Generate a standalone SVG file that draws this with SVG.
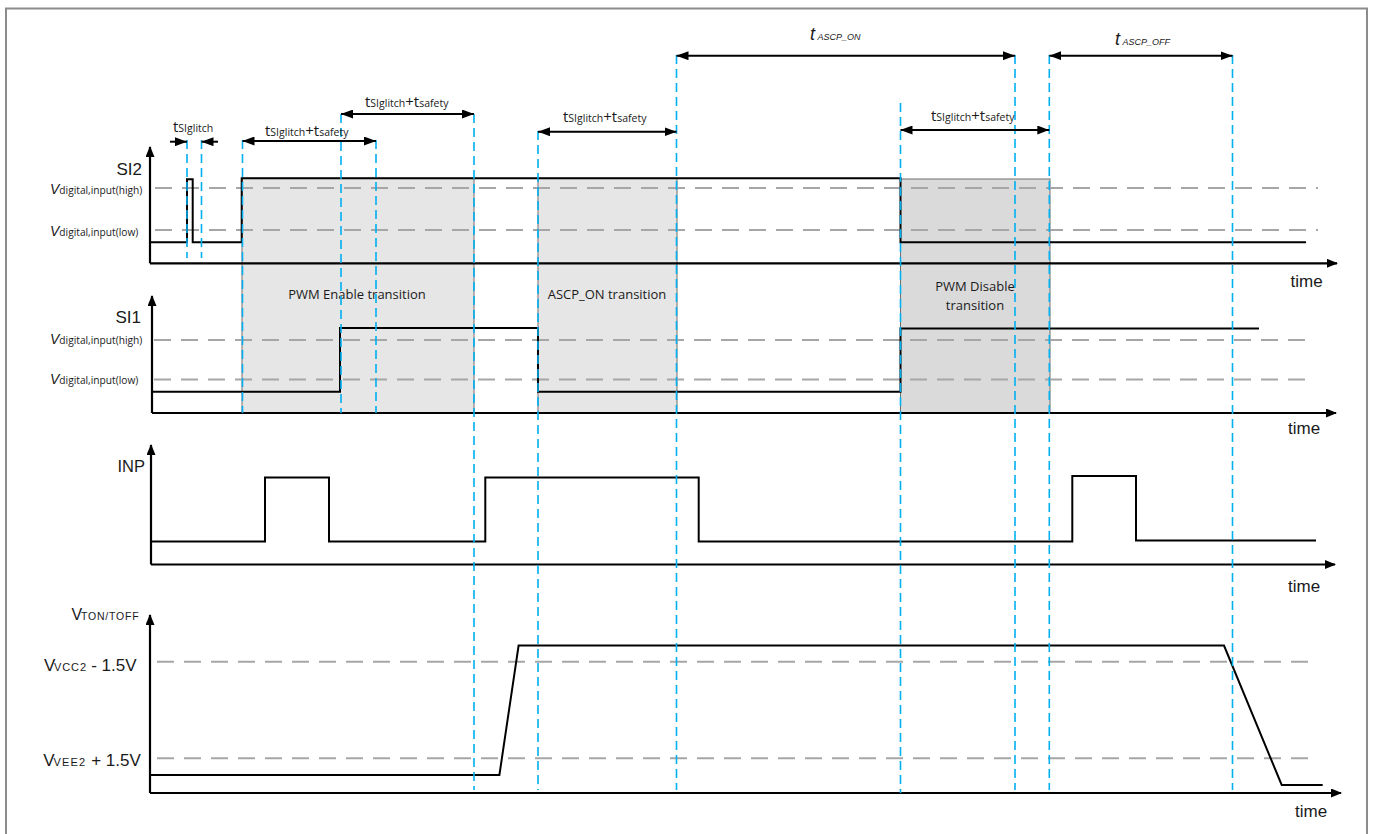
<svg xmlns="http://www.w3.org/2000/svg" width="1373" height="834" viewBox="0 0 1373 834">
<style>
.frame{fill:none;stroke:#8c8c8c;stroke-width:2}
.box{fill:#e6e6e6;stroke:#6e6e6e;stroke-width:1}
.boxd{fill:#dadada;stroke:#6e6e6e;stroke-width:1}
.thr{fill:none;stroke:#a6a6a6;stroke-width:2;stroke-dasharray:17 10}
.sig{fill:none;stroke:#000;stroke-width:2;stroke-linejoin:miter}
.axis{fill:none;stroke:#000;stroke-width:2.2;marker-end:url(#ax)}
.blue{fill:none;stroke:#00b0f0;stroke-width:1.6;stroke-dasharray:9 5}
.dim{fill:none;stroke:#000;stroke-width:2;marker-start:url(#ah);marker-end:url(#ah)}
.one{fill:none;stroke:#000;stroke-width:2;marker-end:url(#ah)}
.ar{font-family:"Liberation Sans",Arial,sans-serif;fill:#1a1a1a}
.cal{font-family:"Open Sans","Noto Sans",sans-serif;fill:#1a1a1a}
.lbl{font-size:17px}
.boxt{font-size:13px;text-anchor:middle}
</style>
<defs>
<marker id="ah" viewBox="0 0 12 9" refX="12" refY="4.5" markerWidth="12" markerHeight="9" markerUnits="userSpaceOnUse" orient="auto-start-reverse">
<path d="M0,0 L12,4.5 L0,9 z" fill="#000"/>
</marker>
<marker id="ax" viewBox="0 0 11 9" refX="10" refY="4.5" markerWidth="11" markerHeight="9" markerUnits="userSpaceOnUse" orient="auto">
<path d="M0,0 L11,4.5 L0,9 z" fill="#000"/>
</marker>
</defs>
<rect width="1373" height="834" fill="#fff"/>
<path class="frame" d="M6,834 V8.5 H1367 V834"/>

<g id="transition-boxes">
<g id="box-pwm-enable">
<rect class="box" x="242" y="178.3" width="232" height="234.7"/>
<text class="cal boxt" x="357" y="299">PWM Enable transition</text>
</g>
<g id="box-ascp-on">
<rect class="box" x="538" y="178.3" width="139" height="234.7"/>
<text class="cal boxt" x="607" y="299">ASCP_ON transition</text>
</g>
<g id="box-pwm-disable">
<rect class="boxd" x="900.5" y="179" width="149.5" height="234.3"/>
<text class="cal boxt" x="975" y="291">PWM Disable</text>
<text class="cal boxt" x="975" y="310">transition</text>
</g>
</g>

<g id="thresholds">
<line class="thr" x1="155" y1="188" x2="1318" y2="188"/>
<line class="thr" x1="155" y1="230" x2="1318" y2="230"/>
<line class="thr" x1="154" y1="340" x2="1307" y2="340"/>
<line class="thr" x1="154" y1="379.5" x2="1307" y2="379.5"/>
<line class="thr" x1="157" y1="661.7" x2="1310" y2="661.7"/>
<line class="thr" x1="157" y1="758.3" x2="1313" y2="758.3"/>
</g>

<g id="si2">
<path class="axis" d="M150,263.3 V147"/>
<path class="axis" d="M150,263.3 H1337"/>
<text class="ar lbl" x="142" y="175" text-anchor="end">SI2</text>
<text x="50" y="193.5"><tspan class="ar" font-size="14" font-style="italic">V</tspan><tspan class="cal" font-size="10.2">digital,input(high)</tspan></text>
<text x="50" y="235.7"><tspan class="ar" font-size="14" font-style="italic">V</tspan><tspan class="cal" font-size="10.2">digital,input(low)</tspan></text>
<path class="sig" d="M150,242.3 H187 V179.3 H192.7 V242.3 H241.7 V178.3 H900.5 V242.3 H1306"/>
<text class="ar lbl" x="1290.5" y="287">time</text>
</g>

<g id="si1">
<path class="axis" d="M152,413 V296"/>
<path class="axis" d="M152,413 H1336"/>
<text class="ar lbl" x="141" y="322.7" text-anchor="end">SI1</text>
<text x="50" y="344.3"><tspan class="ar" font-size="14" font-style="italic">V</tspan><tspan class="cal" font-size="10.2">digital,input(high)</tspan></text>
<text x="50" y="384.3"><tspan class="ar" font-size="14" font-style="italic">V</tspan><tspan class="cal" font-size="10.2">digital,input(low)</tspan></text>
<path class="sig" d="M152,391.7 H340 V328 H538 V391.7 H900.5 V328.5 H1259"/>
<text class="ar lbl" x="1288" y="433.5">time</text>
</g>

<g id="inp">
<path class="axis" d="M151,564.5 V445"/>
<path class="axis" d="M151,564.5 H1335"/>
<text class="ar" font-size="16.5" x="145" y="471.7" text-anchor="end">INP</text>
<path class="sig" d="M151,541.5 H265 V477.5 H329 V541.5 H485.3 V477.5 H698.7 V541.5 H1072.3 V476 H1136 V540.5 H1316"/>
<text class="ar lbl" x="1288" y="592">time</text>
</g>

<g id="vton">
<path class="axis" d="M150,793 V615"/>
<path class="axis" d="M150,793 H1341"/>
<text class="ar" y="620"><tspan x="71.5" font-size="16">V</tspan><tspan x="81" font-size="10.5" letter-spacing="0.8">TON/TOFF</tspan></text>
<text class="ar" y="670.7"><tspan x="44" font-size="17">V</tspan><tspan x="54" font-size="11" letter-spacing="0.9">VCC2</tspan><tspan x="86.5" font-size="17"> - 1.5V</tspan></text>
<text class="ar" y="765.7"><tspan x="43.3" font-size="17">V</tspan><tspan x="53.5" font-size="11" letter-spacing="1.2">VEE2</tspan><tspan x="86.5" font-size="17"> + 1.5V</tspan></text>
<path class="sig" d="M150,775 H499.4 L518.6,645.5 H1224 L1281.7,785 H1322.7"/>
<text class="ar lbl" x="1295" y="817">time</text>
</g>

<g id="markers-vertical">
<line class="blue" x1="187" y1="140" x2="187" y2="258"/>
<line class="blue" x1="201.5" y1="140" x2="201.5" y2="258"/>
<line class="blue" x1="242.5" y1="140" x2="242.5" y2="413"/>
<line class="blue" x1="341" y1="114" x2="341" y2="413"/>
<line class="blue" x1="376" y1="140" x2="376" y2="413"/>
<line class="blue" x1="474" y1="114" x2="474" y2="790"/>
<line class="blue" x1="538" y1="131" x2="538" y2="790"/>
<line class="blue" x1="676.5" y1="55" x2="676.5" y2="790"/>
<line class="blue" x1="900.5" y1="103" x2="900.5" y2="793"/>
<line class="blue" x1="1015" y1="55" x2="1015" y2="790"/>
<line class="blue" x1="1049.3" y1="55" x2="1049.3" y2="790"/>
<line class="blue" x1="1232.5" y1="55" x2="1232.5" y2="790"/>
</g>

<g id="connectors">
<line class="one" x1="170" y1="141.7" x2="187" y2="141.7"/>
<line class="one" x1="218" y1="141.7" x2="201.5" y2="141.7"/>
<line class="dim" x1="242.5" y1="141" x2="376" y2="141"/>
<line class="dim" x1="341" y1="114" x2="474" y2="114"/>
<line class="dim" x1="538" y1="131.7" x2="676.5" y2="131.7"/>
<line class="dim" x1="900.5" y1="130" x2="1049.3" y2="130"/>
<line class="dim" x1="676.5" y1="55.7" x2="1015" y2="55.7"/>
<line class="dim" x1="1049.3" y1="55.7" x2="1232.5" y2="55.7"/>
</g>

<g id="dimension-labels">
<text class="cal" x="173" y="131.5"><tspan font-size="15">t</tspan><tspan font-size="10.5">SIglitch</tspan></text>
<text class="cal" x="265" y="135.5"><tspan font-size="15">t</tspan><tspan font-size="10.5">SIglitch</tspan><tspan font-size="15">+t</tspan><tspan font-size="10.5">safety</tspan></text>
<text class="cal" x="365" y="106.5"><tspan font-size="15">t</tspan><tspan font-size="10.5">SIglitch</tspan><tspan font-size="15">+t</tspan><tspan font-size="10.5">safety</tspan></text>
<text class="cal" x="563" y="122"><tspan font-size="15">t</tspan><tspan font-size="10.5">SIglitch</tspan><tspan font-size="15">+t</tspan><tspan font-size="10.5">safety</tspan></text>
<text class="cal" x="931" y="121"><tspan font-size="15">t</tspan><tspan font-size="10.5">SIglitch</tspan><tspan font-size="15">+t</tspan><tspan font-size="10.5">safety</tspan></text>
<text class="ar" x="810" y="40" font-style="italic"><tspan font-size="18">t</tspan><tspan font-size="9" dx="2.5">ASCP_ON</tspan></text>
<text class="ar" x="1115" y="45" font-style="italic"><tspan font-size="18">t</tspan><tspan font-size="9" dx="2.5">ASCP_OFF</tspan></text>
</g>
</svg>
